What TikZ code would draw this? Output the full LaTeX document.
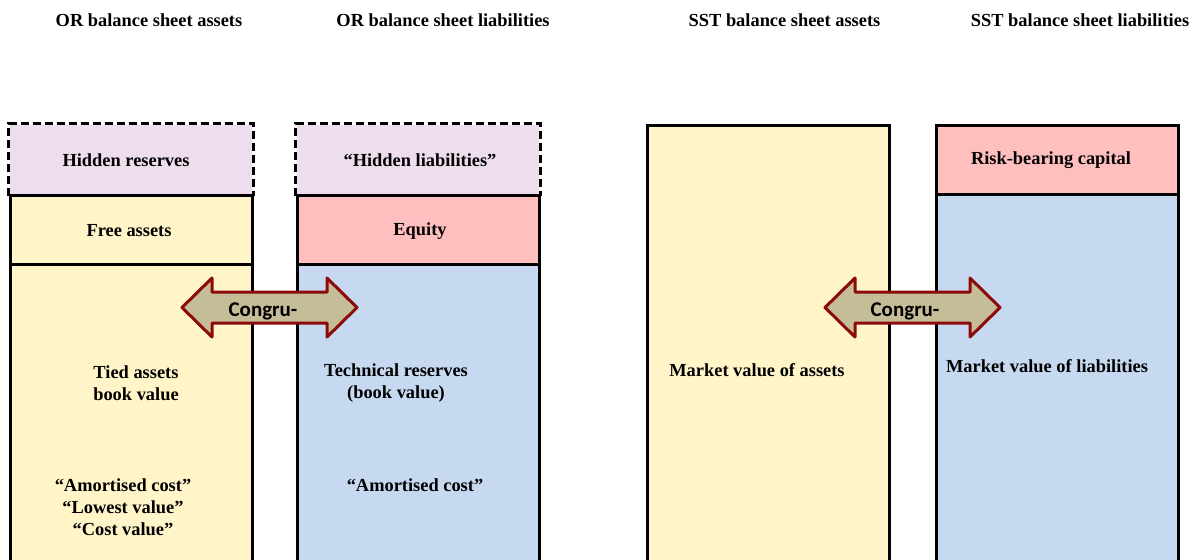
\documentclass[tikz,border=0pt]{standalone}
\usepackage{fontspec}
\setmainfont{Liberation Serif}
\newfontfamily\arrowfont{Carlito}
\definecolor{ylw}{HTML}{FFF5C9}
\definecolor{lav}{HTML}{EDDDED}
\definecolor{pnk}{HTML}{FFBFBF}
\definecolor{blu}{HTML}{C6D9F1}
\definecolor{khk}{HTML}{C4BD97}
\definecolor{drd}{HTML}{8C0A0A}
% double arrow outline around a named centre
\newcommand{\congrarrow}[1]{%
  \draw[draw=drd, fill=khk, line width=1.5pt, line join=round]
    (#1) ++(-87.5,0) -- ++(30,-29.5) -- ++(0,14) -- ++(115,0) -- ++(0,-14)
    -- ++(30,29.5) -- ++(-30,29.5) -- ++(0,-14) -- ++(-115,0) -- ++(0,14) -- cycle;}
\begin{document}
\begin{tikzpicture}[x=0.5pt, y=-0.5pt,
    cell/.style={draw, line width=1.5pt, inner sep=0pt, minimum width=121pt,
                 minimum height=34.5pt},
    tall/.style={cell, minimum height=#1},
    txt/.style={align=center, font=\fontsize{9.2}{11}\bfseries},
    head/.style={font=\fontsize{9.2}{11}\bfseries},
    dsh/.style={line width=1.5pt, dash pattern=on 4pt off 2pt},
    ctxt/.style={font=\arrowfont\fontsize{10.5}{12}\bfseries}
]
\useasboundingbox (0,0) rectangle (1198,559);
\clip (0,0) rectangle (1198,559);
% column headings
\node[head] (h1) at (149,20)    {OR balance sheet assets};
\node[head] (h2) at (443,20)    {OR balance sheet liabilities};
\node[head] (h3) at (784.5,20)  {SST balance sheet assets};
\node[head] (h4) at (1080,20)   {SST balance sheet liabilities};
% OR assets
\node[cell, draw=none, fill=lav] (hr) at (131,159.5) {};
\node[cell, fill=ylw] (fa) at (131,229.5) {};
\node[tall=168pt, fill=ylw] (ta) at (131,432) {};
\draw[dsh] (hr.south west) -- (hr.north west) -- (hr.north east) -- (hr.south east);
\node[txt] (hrt) at (126,160) {Hidden reserves};
\node[txt] (fat) at (129,231) {Free assets};
\node[txt] (tat) at (136,383) {Tied assets\\book value};
\node[txt] (tac) at (123,507) {``Amortised cost''\\``Lowest value''\\``Cost value''};
% OR liabilities
\node[cell, draw=none, fill=lav] (hl) at (418,159.5) {};
\node[cell, fill=pnk] (eq) at (418,229.5) {};
\node[tall=168pt, fill=blu] (tr) at (418,432) {};
\draw[dsh] (hl.south west) -- (hl.north west) -- (hl.north east) -- (hl.south east);
\node[txt] (hlt) at (420,160) {``Hidden liabilities''};
\node[txt] (eqt) at (420,231) {Equity};
\node[txt] (trt) at (396,383) {Technical reserves\\(book value)};
\node[txt] (trc) at (415,485) {``Amortised cost''};
% SST assets
\node[tall=237.5pt, fill=ylw] (mva) at (768.5,362.5) {};
\node[txt] (mvat) at (757,370) {Market value of assets};
% SST liabilities
\node[cell, fill=pnk] (rbc) at (1057,159.5) {};
\node[tall=203pt, fill=blu] (mvl) at (1057,397) {};
\node[txt] (rbct) at (1051,160) {Risk-bearing capital};
\node[txt] (mvlt) at (1047,366) {Market value of liabilities};
% congruence arrows
\coordinate (c1) at (269.5,307.5);
\coordinate (c2) at (912.5,307.5);
\congrarrow{c1}
\congrarrow{c2}
\node[ctxt] (c1t) at (263,311) {Congru-};
\node[ctxt] (c2t) at (905,311) {Congru-};
\end{tikzpicture}
\end{document}
